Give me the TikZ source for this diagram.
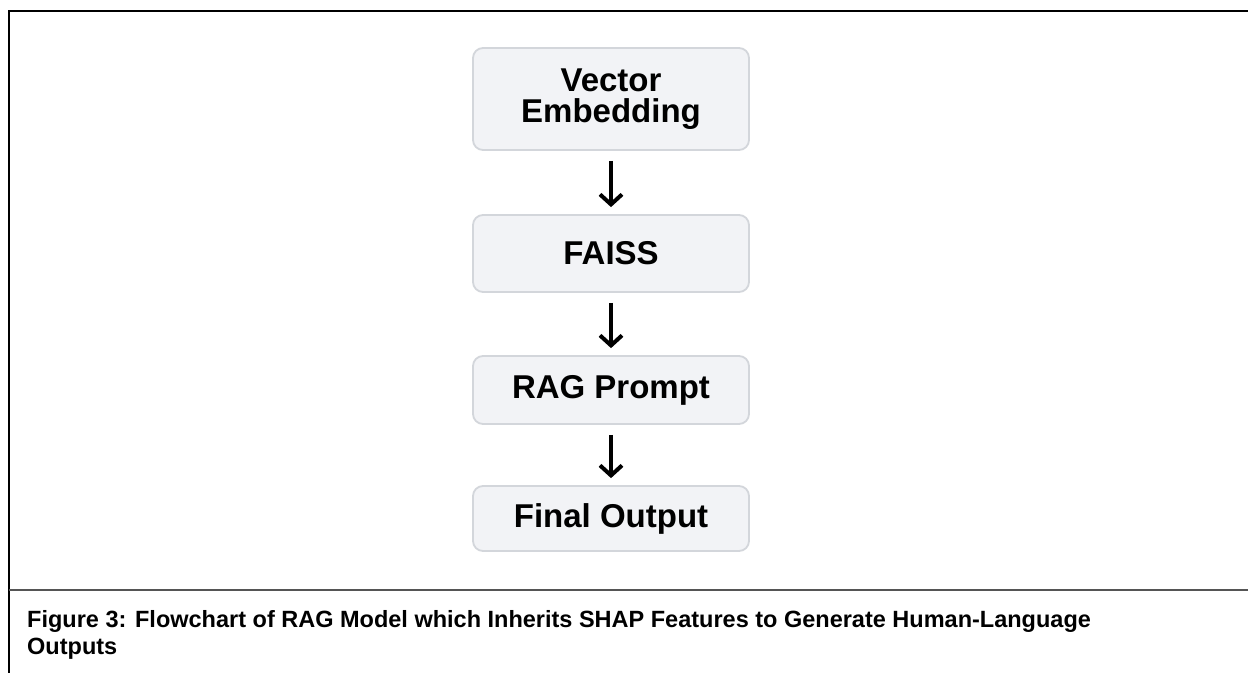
\documentclass[tikz,border=0pt]{standalone}
\usepackage{fontspec}
\setmainfont{Liberation Sans}
\usetikzlibrary{arrows.meta}
\definecolor{boxfill}{HTML}{F2F3F6}
\definecolor{boxline}{HTML}{D3D6DB}
\definecolor{divline}{HTML}{555555}
\tikzset{
  flowbox/.style={draw=boxline, line width=1.8pt, fill=boxfill, rounded corners=10pt,
    minimum width=276pt, align=center, inner sep=0pt, font=\bfseries\fontsize{33}{31.5}\selectfont},
  flowarrow/.style={line width=4pt, -{Straight Barb[length=10pt,width=22pt,line width=4pt]}},
  frameline/.style={line width=2pt, black},
  divider/.style={line width=1.5pt, divline}
}
\begin{document}
\begin{tikzpicture}[x=1pt,y=-1pt]
\useasboundingbox (0,0) rectangle (1248,673);
\fill[white] (0,0) rectangle (1248,673);
% frame
\coordinate (tl) at (9,11);
\coordinate (tr) at (1248,11);
\coordinate (bl) at (9,673);
\coordinate (dl) at (9,590);
\coordinate (dr) at (1248,590);
\draw[frameline] (tr) -- (tl) -- (bl);
\draw[divider] (dl) -- (dr);
% boxes
\node[flowbox, minimum height=102pt] (ve) at (611,99) {Vector\\Embedding};
\node[flowbox, minimum height=77pt] (fa) at (611,253.5) {FAISS};
\node[flowbox, minimum height=68pt] (rp) at (611,390) {RAG Prompt};
\node[flowbox, minimum height=65pt] (fo) at (611,518.5) {Final Output};
% arrows
\draw[flowarrow] ([yshift=-10pt]ve.south) -- ([yshift=7pt]fa.north);
\draw[flowarrow] ([yshift=-10pt]fa.south) -- ([yshift=7pt]rp.north);
\draw[flowarrow] ([yshift=-10pt]rp.south) -- ([yshift=7pt]fo.north);
% caption
\node[anchor=north west, align=left, inner sep=0pt, font=\bfseries\fontsize{23.5}{27}\selectfont] (cap) at (27,610)
  {Figure 3: Flowchart of RAG Model which Inherits SHAP Features to Generate Human-Language\\Outputs};
\end{tikzpicture}
\end{document}
